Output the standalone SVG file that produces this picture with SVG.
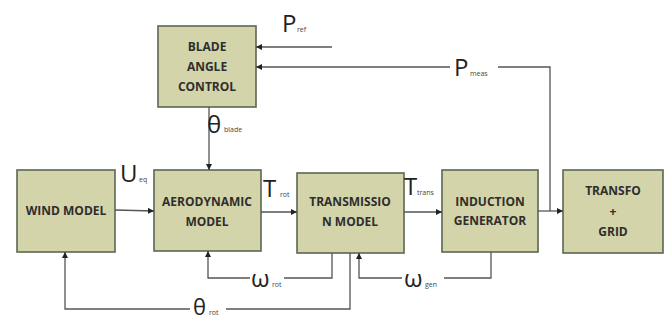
<svg xmlns="http://www.w3.org/2000/svg" width="667" height="322" viewBox="0 0 667 322">
<style>
.box{fill:#d3d4a9;stroke:#5d6652;stroke-width:1.6}
.lbl{font-family:"Open Sans","Liberation Sans",sans-serif;font-weight:bold;font-size:12px;fill:#2e2e2e;text-anchor:middle}
.ln{fill:none;stroke:#555;stroke-width:1.3}
.sym{font-family:"Open Sans","Liberation Sans",sans-serif;fill:#222}
.big{font-size:24px}
.sub{font-size:7px;fill:#444}
</style>
<defs>
<marker id="ah" viewBox="0 0 10 10" refX="10" refY="5" markerWidth="6" markerHeight="6" orient="auto" markerUnits="userSpaceOnUse">
<path d="M0,0 L10,5 L0,10 z" fill="#222"/>
</marker>
</defs>
<rect width="667" height="322" fill="#fff"/>
<g id="blade">
<rect class="box" x="158" y="26" width="98" height="81"/>
<text class="lbl" x="207" y="51">BLADE</text>
<text class="lbl" x="207" y="71">ANGLE</text>
<text class="lbl" x="207" y="91">CONTROL</text>
</g>
<g id="wind">
<rect class="box" x="17" y="170" width="98" height="82"/>
<text class="lbl" x="66" y="215">WIND MODEL</text>
</g>
<g id="aero">
<rect class="box" x="154" y="170" width="107" height="81"/>
<text class="lbl" x="207" y="206">AERODYNAMIC</text>
<text class="lbl" x="207" y="226">MODEL</text>
</g>
<g id="trans">
<rect class="box" x="297" y="173" width="107" height="80"/>
<text class="lbl" x="350" y="206">TRANSMISSIO</text>
<text class="lbl" x="350" y="226">N MODEL</text>
</g>
<g id="induction">
<rect class="box" x="442" y="170" width="96" height="82"/>
<text class="lbl" x="490" y="206">INDUCTION</text>
<text class="lbl" x="490" y="225">GENERATOR</text>
</g>
<g id="transfo">
<rect class="box" x="563" y="170" width="100" height="83"/>
<text class="lbl" x="613" y="195">TRANSFO</text>
<text class="lbl" x="613" y="216">+</text>
<text class="lbl" x="613" y="236">GRID</text>
</g>
<g id="connectors">
<path class="ln" d="M332,47 H256" marker-end="url(#ah)"/>
<path class="ln" d="M550,211 V67 H256" marker-end="url(#ah)"/>
<path class="ln" d="M209,107 V170" marker-end="url(#ah)"/>
<path class="ln" d="M115,210 L154,211" marker-end="url(#ah)"/>
<path class="ln" d="M261,212 H297" marker-end="url(#ah)"/>
<path class="ln" d="M404,212 H442" marker-end="url(#ah)"/>
<path class="ln" d="M538,211 H563" marker-end="url(#ah)"/>
<path class="ln" d="M332,253 V278 H208 V251" marker-end="url(#ah)"/>
<path class="ln" d="M491,252 V278 H359 V253" marker-end="url(#ah)"/>
<path class="ln" d="M350,253 V309 H65 V252" marker-end="url(#ah)"/>
</g>
<g id="labels">
<text class="sym big" x="282" y="32">P</text><text class="sym sub" x="297" y="32">ref</text>
<rect x="450" y="56" width="48" height="22" fill="#fff"/>
<text class="sym big" x="454" y="76">P</text><text class="sym sub" x="470" y="76">meas</text>
<text class="sym big" x="207" y="133">θ</text><text class="sym sub" x="224" y="132">blade</text>
<text class="sym big" x="120" y="182">U</text><text class="sym sub" x="139" y="182">eq</text>
<text class="sym big" x="263" y="197">T</text><text class="sym sub" x="280" y="197">rot</text>
<text class="sym big" x="404" y="195">T</text><text class="sym sub" x="417" y="195">trans</text>
<rect x="250" y="268" width="34" height="20" fill="#fff"/>
<text class="sym big" x="251" y="287">ω</text><text class="sym sub" x="272" y="287">rot</text>
<rect x="402" y="268" width="42" height="20" fill="#fff"/>
<text class="sym big" x="404" y="287">ω</text><text class="sym sub" x="425" y="287">gen</text>
<rect x="190" y="296" width="36" height="22" fill="#fff"/>
<text class="sym" font-size="22" x="193" y="315">θ</text><text class="sym sub" x="209" y="315">rot</text>
</g>
</svg>
